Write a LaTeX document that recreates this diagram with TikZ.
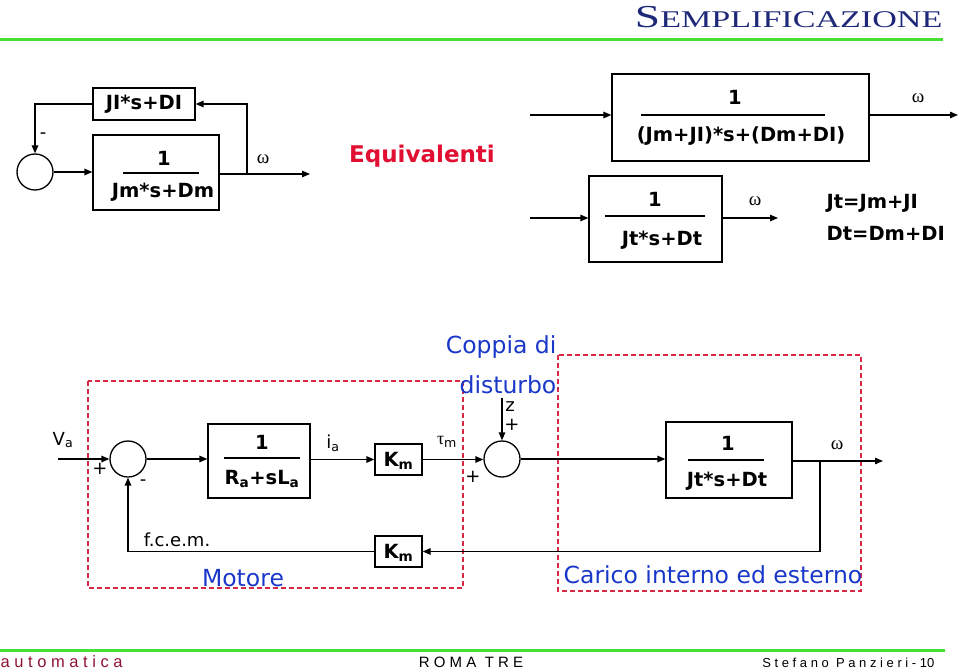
\documentclass[tikz,border=0pt]{standalone}
\usepackage{fontspec}
\usepackage{graphicx}
\setmainfont{DejaVu Sans}
\newfontfamily\serifg{Liberation Serif}
\newfontfamily\footf{Liberation Sans}
\usetikzlibrary{arrows.meta}
\definecolor{tblue}{RGB}{30,40,120}
\definecolor{lblue}{RGB}{25,55,200}
\definecolor{dred}{RGB}{215,40,70}
\definecolor{eqred}{RGB}{225,15,50}
\definecolor{gline}{RGB}{70,225,50}
\definecolor{maroon}{RGB}{140,20,50}
\begin{document}
\begin{tikzpicture}[x=1pt,y=-1pt, line width=1.3pt,
 arr/.style={-{Triangle[length=8pt,width=6.5pt]}},
 blk/.style={draw, rectangle, inner sep=0pt},
 sumc/.style={draw, circle, minimum size=36pt, inner sep=0pt},
 bt/.style={font=\bfseries\fontsize{19.5}{22}\selectfont, inner sep=0pt},
 lt/.style={font=\fontsize{18}{20}\selectfont, inner sep=0pt},
 bl/.style={font=\fontsize{23.5}{26}\selectfont, text=lblue, inner sep=0pt},
 om/.style={font=\serifg\fontsize{19}{20}\selectfont, inner sep=0pt},
 dbox/.style={draw=dred, dash pattern=on 5pt off 3pt, line width=1.2pt},
 fl/.style={line width=1.3pt}]
\useasboundingbox (0,0) rectangle (960,671);

% title and rules
\node[anchor=east, text=tblue, inner sep=0pt] (title) at (943,17)
  {\serifg\scalebox{1.42}[1]{\fontsize{32}{32}\selectfont S\fontsize{24}{32}\selectfont EMPLIFICAZIONE}};
\draw[gline, line width=3pt] (0,40) -- (943,40);
\draw[gline, line width=3pt] (0,650) -- (945,650);
\node[anchor=west, text=maroon, inner sep=0pt, font=\footf\fontsize{16.5}{18}\selectfont] (f1) at (0,662) {a u t o m a t i c a};
\node[inner sep=0pt, font=\footf\fontsize{15}{17}\selectfont] (f2) at (471,662) {R O M A \ T R E};
\node[anchor=east, inner sep=0pt, font=\footf\fontsize{13}{15}\selectfont] (f3) at (935,663) {S t e f a n o \ P a n z i e r i - 10};

% ---------- top left ----------
\node[sumc] (s1) at (35,172) {};
\node[blk, minimum width=102pt, minimum height=32pt] (jl) at (144,104) {};
\node[bt] (jlt) at (144,104) {JI*s+DI};
\node[blk, minimum width=126pt, minimum height=75pt] (b1) at (156,172.5) {};
\draw[fl] (123,173) -- (199,173);
\node[bt] (b1n) at (164,158) {1};
\node[bt] (b1d) at (163,192) {Jm*s+Dm};
\coordinate (o1) at (310,174);
\coordinate (br1) at (247,174);
\draw[arr] (s1.east) -- (s1.east -| b1.west);
\draw[arr] (b1.east |- o1) -- (o1);
\draw[arr] (br1) |- (jl.east);
\draw[arr] (jl.west) -| (s1.north);
\node[lt] (m1) at (43,136) {-};
\node[om] (w1) at (263,159) {ω};

\node[font=\bfseries\fontsize{23}{26}\selectfont, text=eqred, inner sep=0pt] (eq) at (422,156) {Equivalenti};

% ---------- top right ----------
\node[blk, minimum width=257pt, minimum height=87pt] (big) at (740.5,117.5) {};
\draw[fl] (641,115) -- (825,115);
\node[bt] (bign) at (735,97) {1};
\node[bt] (bigd) at (741,136) {(Jm+JI)*s+(Dm+DI)};
\coordinate (i2) at (530,115);
\coordinate (o2) at (958,115);
\draw[arr] (i2) -- (i2 -| big.west);
\draw[arr] (o2 -| big.east) -- (o2);
\node[om] (w2) at (918,98) {ω};

\node[blk, minimum width=133pt, minimum height=86pt] (sm) at (655.5,219) {};
\draw[fl] (605,216) -- (705,216);
\node[bt] (smn) at (655,199) {1};
\node[bt] (smd) at (662,240) {Jt*s+Dt};
\coordinate (i3) at (530,218);
\coordinate (o3) at (778,218);
\draw[arr] (i3) -- (i3 -| sm.west);
\draw[arr] (o3 -| sm.east) -- (o3);
\node[om] (w3) at (755,201) {ω};
\node[bt, anchor=west] (eqa) at (826,203) {Jt=Jm+JI};
\node[bt, anchor=west] (eqb) at (826,233) {Dt=Dm+DI};

% ---------- bottom ----------
\draw[dbox] (88,381) rectangle (463,588);
\draw[dbox] (558,355) rectangle (861,591);
\node[bl, anchor=east] (cp1) at (557,347) {Coppia di};
\node[bl, anchor=east] (cp2) at (557,385) {disturbo};
\node[bl] (mot) at (243,578) {Motore};
\node[bl] (car) at (713,575) {Carico interno ed esterno};

\node[sumc] (s2) at (128,459) {};
\node[blk, minimum width=102pt, minimum height=74pt] (rb) at (259,461) {};
\draw[fl] (224,458) -- (300,458);
\node[bt] (rbn) at (262,442) {1};
\node[bt] (rbd) at (262,479) {R\textsubscript{a}+sL\textsubscript{a}};
\node[blk, minimum width=47pt, minimum height=31pt] (km1) at (398.5,459.5) {};
\node[bt] (km1t) at (398.5,461) {K\textsubscript{m}};
\node[sumc] (s3) at (502,459) {};
\node[blk, minimum width=126pt, minimum height=76pt] (jt) at (729,460) {};
\draw[fl] (688,460) -- (764,460);
\node[bt] (jtn) at (728,443) {1};
\node[bt] (jtd) at (727,481) {Jt*s+Dt};
\node[blk, minimum width=47pt, minimum height=31pt] (km2) at (398.5,551.5) {};
\node[bt] (km2t) at (398.5,553) {K\textsubscript{m}};

\coordinate (vin) at (58,459);
\coordinate (zin) at (502,398);
\coordinate (o4) at (883,461);
\coordinate (br2) at (820,461);
\draw[arr] (vin) -- (s2.west);
\draw[arr] (s2.east) -- (s2.east -| rb.west);
\draw[arr] (km1.west -| rb.east) -- (km1.west);
\draw[arr] (km1.east) -- (km1.east -| s3.west);
\draw[arr] (s3.east) -- (s3.east -| jt.west);
\draw[arr] (o4 -| jt.east) -- (o4);
\draw[arr] (br2) |- (km2.east);
\draw[arr] (km2.west) -| (s2.south);
\draw[arr] (zin) -- (s3.north);

\node[lt] (va) at (63,440) {V\textsubscript{a}};
\node[lt] (p1) at (100,469) {+};
\node[lt] (m2) at (143,483) {-};
\node[lt] (ia) at (333,443) {i\textsubscript{a}};
\node[lt] (tm) at (447,442) {{\serifg τ}\textsubscript{m}};
\node[lt] (p2) at (473,477) {+};
\node[lt] (zz) at (510,407) {z};
\node[lt] (p3) at (512,425) {+};
\node[lt] (fc) at (177,540) {f.c.e.m.};
\node[om] (w4) at (837,445) {ω};
\end{tikzpicture}
\end{document}
